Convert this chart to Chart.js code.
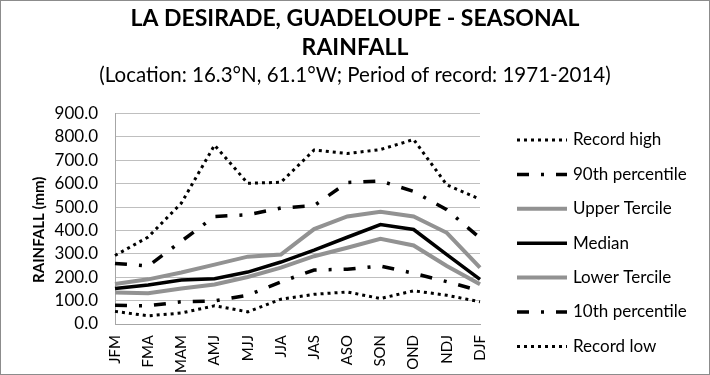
<!DOCTYPE html>
<html>
<head>
<meta charset="utf-8">
<script src="https://cdn.jsdelivr.net/npm/chart.js@4/dist/chart.umd.min.js"></script>
<style>
  html, body { margin: 0; padding: 0; background: #fff; }
  #wrap { width: 708px; height: 373px; border: 1px solid #8c8c8c; }
</style>
</head>
<body>
<div id="wrap"><canvas id="rainChart" width="708" height="373"></canvas></div>
<script>
// seasons and rainfall values (mm)
const seasons = ['JFM', 'FMA', 'MAM', 'AMJ', 'MJJ', 'JJA', 'JAS', 'ASO', 'SON', 'OND', 'NDJ', 'DJF'];
const recordHigh = [293, 372, 517, 765, 602, 606, 744, 729, 746, 789, 595, 534];
const pct90 = [259, 248, 354, 460, 467, 496, 506, 605, 612, 567, 489, 368];
const upperTercile = [171, 191, 220, 254, 288, 297, 406, 460, 480, 460, 390, 241];
const median = [152, 167, 188, 194, 222, 265, 316, 371, 425, 404, 297, 191];
const lowerTercile = [135, 132, 152, 169, 201, 241, 290, 326, 364, 336, 248, 170];
const pct10 = [80, 78, 95, 99, 123, 180, 231, 234, 248, 217, 181, 142];
const recordLow = [54, 35, 47, 78, 52, 106, 127, 137, 109, 142, 123, 95];
const yTicks = [0, 100, 200, 300, 400, 500, 600, 700, 800, 900];

const fontFamily = 'Lato, "Open Sans", sans-serif';

function line(label, data, color, width, dash) {
    return {
        label: label,
        data: data,
        borderColor: color,
        backgroundColor: color,
        borderWidth: width,
        borderDash: dash,
        pointRadius: 0,
        tension: 0,
        fill: false
    };
}

// legend drawn beside the plot, one row per dataset
const sideLegend = {
    id: 'sideLegend',
    afterDraw(chart) {
        const c = chart.ctx;
        const x0 = 516, x1 = 566, top = 139, step = 34.4;
        c.save();
        c.font = '17px ' + fontFamily;
        c.textBaseline = 'middle';
        chart.data.datasets.forEach((ds, i) => {
            const y = top + step * i;
            c.beginPath();
            c.setLineDash(ds.borderDash);
            c.lineWidth = ds.borderWidth;
            c.strokeStyle = ds.borderColor;
            c.moveTo(x0, y);
            c.lineTo(x1, y);
            c.stroke();
            c.setLineDash([]);
            c.fillStyle = '#000';
            c.fillText(ds.label, x1 + 6, y);
        });
        c.restore();
    }
};

const ctx = document.getElementById('rainChart').getContext('2d');

const myChart = new Chart(ctx, {
    type: 'line',
    data: {
        labels: seasons,
        datasets: [
            line('Record high', recordHigh, '#000', 3, [3, 4]),
            line('90th percentile', pct90, '#000', 3.5, [12, 12, 3, 12]),
            line('Upper Tercile', upperTercile, '#929292', 4, []),
            line('Median', median, '#000', 3.5, []),
            line('Lower Tercile', lowerTercile, '#929292', 4, []),
            line('10th percentile', pct10, '#000', 3.5, [12, 12, 3, 12]),
            line('Record low', recordLow, '#000', 3, [3, 4])
        ]
    },
    options: {
        responsive: false,
        animation: false,
        layout: { padding: { left: 0, right: 0, top: 3, bottom: 0 } },
        plugins: {
            title: {
                display: true,
                text: ['LA DESIRADE, GUADELOUPE - SEASONAL', 'RAINFALL'],
                color: '#000',
                font: { family: fontFamily, size: 23, weight: 'bold', lineHeight: 1.26 },
                padding: { top: 0, bottom: 0 }
            },
            subtitle: {
                display: true,
                text: '(Location: 16.3°N, 61.1°W; Period of record: 1971-2014)',
                color: '#000',
                font: { family: fontFamily, size: 20.5 },
                padding: { top: 1, bottom: 26 }
            },
            legend: { display: false },
            tooltip: { enabled: false }
        },
        scales: {
            x: {
                grid: { display: false, drawTicks: false },
                border: { color: '#a6a6a6' },
                afterFit: axis => { axis.height = 50; },
                ticks: {
                    color: '#000',
                    font: { family: fontFamily, size: 15 },
                    maxRotation: 90,
                    minRotation: 90,
                    autoSkip: false,
                    padding: 11
                }
            },
            y: {
                min: 0,
                max: 900,
                afterBuildTicks: axis => { axis.ticks = yTicks.map(v => ({ value: v })); },
                afterFit: axis => { axis.width = 114; },
                grid: { color: '#bfbfbf', drawTicks: false },
                border: { color: '#a6a6a6' },
                ticks: {
                    color: '#000',
                    font: { family: fontFamily, size: 17 },
                    autoSkip: false,
                    padding: 17,
                    callback: v => v.toFixed(1)
                },
                title: {
                    display: true,
                    // trailing spaces push the text a little lower, as in the original
                    text: 'RAINFALL (mm)\u00a0\u00a0\u00a0\u00a0\u00a0\u00a0',
                    color: '#000',
                    font: { family: fontFamily, size: 15, weight: 'bold' },
                    padding: { top: 29, bottom: 0 }
                }
            },
            // empty axis on the right that keeps room for the legend
            side: {
                position: 'right',
                display: true,
                afterFit: axis => { axis.width = 229; },
                grid: { display: false, drawTicks: false },
                border: { display: false },
                ticks: { display: false }
            }
        }
    },
    plugins: [sideLegend]
});
</script>
</body>
</html>
